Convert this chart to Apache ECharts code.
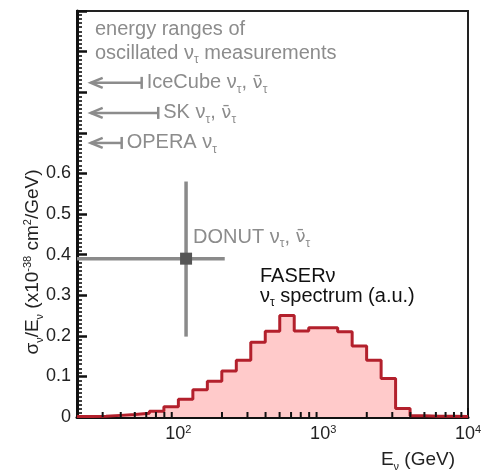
<!DOCTYPE html>
<html><head><meta charset="utf-8">
<script src="https://cdn.jsdelivr.net/npm/echarts@6/dist/echarts.min.js"></script>
<style>html,body{margin:0;padding:0;background:#fff;}#c{width:483px;height:472px;}</style>
</head><body><div id="c"></div>
<script>
// ---- data ----
const binEdgesGeV = [19.95, 25.12, 31.62, 39.81, 50.12, 63.10, 79.43, 100, 125.9, 158.5, 199.5, 251.2, 316.2, 398.1, 501.2, 631.0, 794.3, 1000, 1259, 1585, 1995, 2512, 3162, 3981, 5012, 6310, 7943, 10000];
const spectrumValues = [0.001, 0.002, 0.004, 0.006, 0.009, 0.014, 0.025, 0.044, 0.067, 0.088, 0.113, 0.140, 0.184, 0.211, 0.250, 0.212, 0.220, 0.220, 0.210, 0.175, 0.140, 0.095, 0.021, 0.003, 0.002, 0.002, 0.001];
const donutPoint = { energyGeV: 113, value: 0.39, xLowGeV: 19.95, xHighGeV: 209, yLow: 0.198, yHigh: 0.58 };
const rangeNames = ['IceCube', 'SK', 'OPERA'];
const rangeLowGeV = [24.8, 24.8, 24.8];
const rangeHighGeV = [55.8, 72.6, 40.6];
const rangeLevel = [0.823, 0.749, 0.675];
const rangeLabels = ['IceCube ν{s|τ}, {v|ν\u0304}{s|τ}', 'SK ν{s|τ}, {v|ν\u0304}{s|τ}', 'OPERA ν{s|τ}'];
const xMinorTicks = [30, 40, 50, 60, 70, 80, 90, 200, 300, 400, 500, 600, 700, 800, 900, 2000, 3000, 4000, 5000, 6000, 7000, 8000, 9000];
const yTickLabels = ['0', '0.1', '0.2', '0.3', '0.4', '0.5', '0.6'];

// ---- style ----
const F = 'Liberation Sans, Arial, Helvetica, sans-serif';
const GREY = '#8c8c8c';
const INK = '#222';
function rich(color, size) {
  return {
    s: { fontSize: Math.round(size * 0.6), fill: color, color: color, fontFamily: F, lineHeight: 12, padding: [14, 0, 0, 0] },
    p: { fontSize: Math.round(size * 0.6), fill: color, color: color, fontFamily: F, lineHeight: 12, verticalAlign: 'top' },
    v: { fontSize: Math.round(size * 0.92), fill: color, color: color, fontFamily: 'DejaVu Sans, sans-serif', lineHeight: 22 }
  };
}
function txt(x, y, text, color, size, align) {
  return {
    type: 'text', x: x, y: y, z: 50,
    style: { text: text, fill: color, fontSize: size, fontFamily: F, align: align || 'left', verticalAlign: 'middle', lineHeight: 22, rich: rich(color, size) }
  };
}

const histData = binEdgesGeV.map((e, i) => [e, i < spectrumValues.length ? spectrumValues[i] : spectrumValues[spectrumValues.length - 1]]);

const chart = echarts.init(document.getElementById('c'), null, { renderer: 'canvas' });
chart.setOption({
  animation: false,
  backgroundColor: '#fff',
  grid: { left: 77, right: 15, top: 11, bottom: 55, show: true, borderColor: INK, borderWidth: 2, containLabel: false, outerBoundsMode: 'none' },
  xAxis: {
    type: 'log', logBase: 10, min: 19.95, max: 10000,
    axisLine: { show: true, onZero: false, lineStyle: { color: '#111', width: 3 } },
    axisTick: { show: true, inside: true, length: 9, lineStyle: { color: '#111', width: 2 } },
    minorTick: { show: false },
    splitLine: { show: false },
    axisLabel: {
      margin: 7, color: INK, fontFamily: F, fontSize: 18,
      formatter: function (v) {
        const e = Math.log10(v);
        if (Math.abs(e - Math.round(e)) > 1e-6 || Math.round(e) < 2) return '';
        return '{b|10}{p|' + Math.round(e) + '}';
      },
      rich: {
        b: { fontSize: 18, fontFamily: F, color: INK, lineHeight: 20 },
        p: { fontSize: 11, fontFamily: F, color: INK, lineHeight: 11, verticalAlign: 'top' }
      }
    }
  },
  yAxis: {
    type: 'value', min: 0, max: 1, interval: 0.1,
    axisLine: { show: true, lineStyle: { color: '#111', width: 3 } },
    axisTick: { show: true, inside: true, length: 10, lineStyle: { color: '#111', width: 2.5 } },
    minorTick: { show: true, splitNumber: 10, length: 5, lineStyle: { color: '#111', width: 1.6 } },
    splitLine: { show: false },
    axisLabel: {
      margin: 6, color: INK, fontFamily: F, fontSize: 18,
      formatter: function (v) { const i = Math.round(v * 10); return i < yTickLabels.length ? yTickLabels[i] : ''; }
    }
  },
  series: [
    {
      type: 'line', step: 'end', data: histData, symbol: 'none', clip: true, z: 3,
      lineStyle: { color: '#b3202c', width: 3 },
      areaStyle: { color: '#ffcaca', opacity: 1 }
    },
    {
      type: 'custom', z: 5, clip: true,
      data: [[donutPoint.energyGeV, donutPoint.value, donutPoint.xLowGeV, donutPoint.xHighGeV, donutPoint.yLow, donutPoint.yHigh]],
      encode: { x: [0, 2, 3], y: [1, 4, 5] },
      renderItem: function (params, api) {
        const c = api.coord([api.value(0), api.value(1)]);
        const xl = api.coord([api.value(2), api.value(1)]);
        const xr = api.coord([api.value(3), api.value(1)]);
        const yl = api.coord([api.value(0), api.value(4)]);
        const yh = api.coord([api.value(0), api.value(5)]);
        const ls = { stroke: '#8a8a8a', lineWidth: 3.5 };
        return { type: 'group', children: [
          { type: 'line', shape: { x1: xl[0], y1: c[1], x2: xr[0], y2: c[1] }, style: ls },
          { type: 'line', shape: { x1: c[0], y1: yl[1], x2: c[0], y2: yh[1] }, style: ls },
          { type: 'rect', shape: { x: c[0] - 6, y: c[1] - 6, width: 12, height: 12 }, style: { fill: '#555' } }
        ] };
      }
    },
    {
      type: 'custom', z: 5, clip: false,
      data: rangeNames.map((n, i) => [rangeLowGeV[i], rangeHighGeV[i], rangeLevel[i], i]),
      encode: { x: [0, 1], y: 2 },
      renderItem: function (params, api) {
        const a = api.coord([api.value(0), api.value(2)]);
        const b = api.coord([api.value(1), api.value(2)]);
        const ls = { stroke: GREY, lineWidth: 2.5, fill: null };
        const i = api.value(3);
        return { type: 'group', children: [
          { type: 'line', shape: { x1: a[0], y1: a[1], x2: b[0], y2: b[1] }, style: ls },
          { type: 'polyline', shape: { points: [[a[0] + 12, a[1] - 5], [a[0], a[1]], [a[0] + 12, a[1] + 5]] }, style: ls },
          { type: 'line', shape: { x1: b[0], y1: b[1] - 6, x2: b[0], y2: b[1] + 6 }, style: ls },
          { type: 'text', x: b[0] + 5, y: b[1], style: { text: rangeLabels[i], fill: GREY, fontSize: 20, fontFamily: F, align: 'left', verticalAlign: 'middle', lineHeight: 22, rich: rich(GREY, 20) } }
        ] };
      }
    },
    {
      type: 'custom', z: 6, clip: true,
      data: xMinorTicks.map(v => [v, 0]),
      encode: { x: 0, y: 1 },
      renderItem: function (params, api) {
        const p = api.coord([api.value(0), 0]);
        return { type: 'line', shape: { x1: p[0], y1: p[1], x2: p[0], y2: p[1] - 5 }, style: { stroke: '#111', lineWidth: 2 } };
      }
    }
  ],
  graphic: [
    txt(95, 29, 'energy ranges of', GREY, 20),
    txt(95, 53, 'oscillated ν{s|τ} measurements', GREY, 20),
    txt(193, 237, 'DONUT ν{s|τ}, {v|ν\u0304}{s|τ}', GREY, 20),
    txt(260, 276, 'FASERν', '#111', 20),
    txt(260, 296, 'ν{s|τ} spectrum (a.u.)', '#111', 20),
    txt(455, 460, 'E{s|ν} (GeV)', INK, 19, 'right'),
    { type: 'text', x: 33, y: 262, rotation: Math.PI / 2, z: 50,
      style: { text: 'σ{s|ν}/E{s|ν} (x10{p|-38} cm{p|2}/GeV)', fill: INK, fontSize: 19, fontFamily: F, align: 'center', verticalAlign: 'middle', lineHeight: 22, rich: rich(INK, 19) } }
  ]
});
</script></body></html>
